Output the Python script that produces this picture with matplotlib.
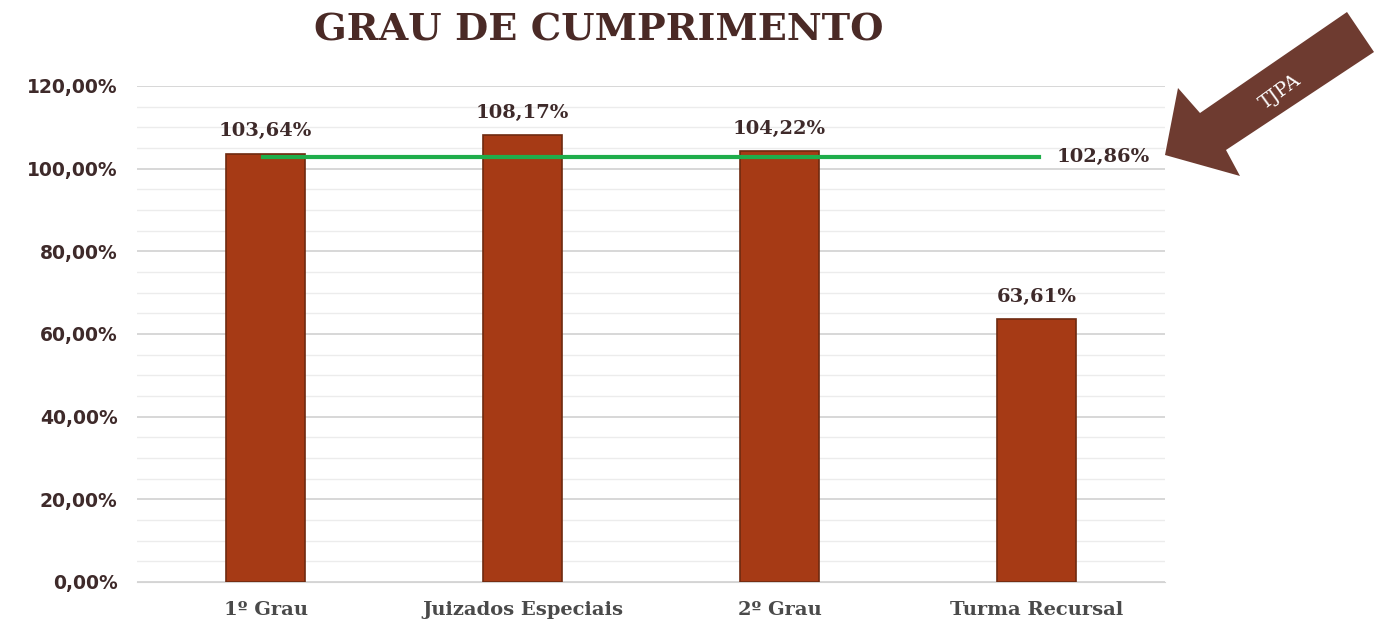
import matplotlib
matplotlib.use("Agg")
import matplotlib.pyplot as plt
from matplotlib.patches import Polygon
from matplotlib.ticker import MultipleLocator
import numpy as np

categories = ["1º Grau", "Juizados Especiais", "2º Grau", "Turma Recursal"]
values = [103.64, 108.17, 104.22, 63.61]
tjpa_total = 102.86

TXT = "#3e2a2a"
BAR = "#a63a15"

fig = plt.figure(figsize=(13.77, 6.26), dpi=100)
ax = fig.add_axes([137 / 1377, 44 / 626, 1028 / 1377, 496 / 626])

x = np.arange(len(categories))
bars = ax.bar(x, values, width=0.31, color=BAR, edgecolor="#6e2a10", linewidth=1.2, zorder=3)
for xi, v in zip(x, values):
    ax.text(xi, v + 3.2, f"{v:.2f}%".replace(".", ","), ha="center", va="bottom",
            fontsize=14, fontweight="bold", family="DejaVu Serif", color=TXT)

ax.plot([x[0] - 0.01, x[-1] + 0.01], [tjpa_total, tjpa_total], color="#1fae4b", lw=3, zorder=4)
ax.text(x[-1] + 0.08, tjpa_total, f"{tjpa_total:.2f}%".replace(".", ","), ha="left", va="center",
        fontsize=14, fontweight="bold", family="DejaVu Serif", color=TXT)

ax.set_xlim(-0.5, 3.5)
ax.set_ylim(0, 120)
ax.yaxis.set_major_locator(MultipleLocator(20))
ax.yaxis.set_minor_locator(MultipleLocator(5))
ax.yaxis.set_major_formatter(lambda v, p: f"{v:.2f}%".replace(".", ","))
ax.grid(axis="y", which="major", color="#d4d4d4", lw=1.3, zorder=0)
ax.grid(axis="y", which="minor", color="#ececec", lw=1.0, zorder=0)
ax.set_xticks(x)
ax.set_xticklabels(categories)
for lab in ax.get_xticklabels():
    lab.set_family("DejaVu Serif")
    lab.set_fontweight("bold")
    lab.set_fontsize(14)
    lab.set_color("#4a4a4a")
for lab in ax.get_yticklabels():
    lab.set_fontweight("bold")
    lab.set_fontsize(13.5)
    lab.set_color(TXT)
ax.tick_params(axis="both", which="both", length=0, pad=14)
for s in ["top", "right", "left"]:
    ax.spines[s].set_visible(False)
ax.spines["bottom"].set_color("#d4d4d4")

fig.text(599 / 1377, 1 - 30 / 626, "GRAU DE CUMPRIMENTO", ha="center", va="center",
         fontsize=27.5, fontweight="heavy", family="DejaVu Serif", color="#4a2a26")

# arrow pointing to the TJPA line
arrow_px = [(1165, 155), (1178, 88), (1200, 113), (1347, 12), (1374, 52), (1226, 150), (1240, 176)]
arrow = Polygon([(px / 1377, 1 - py / 626) for px, py in arrow_px], closed=True,
                transform=fig.transFigure, facecolor="#6e3b30", edgecolor="none")
fig.patches.append(arrow)
fig.text(1280 / 1377, 1 - 92 / 626, "TJPA", ha="center", va="center", rotation=36,
         fontsize=14, family="DejaVu Serif", color="white")

fig.savefig("out.png", dpi=100)
